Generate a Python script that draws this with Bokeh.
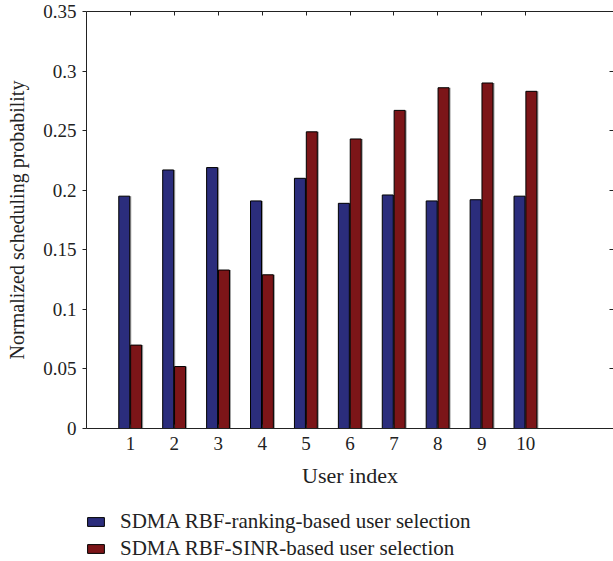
from bokeh.plotting import figure
from bokeh.layouts import column
from bokeh.models import (ColumnDataSource, FixedTicker, Range1d, LinearAxis,
                          Legend, LegendItem)
from bokeh.transform import dodge
from bokeh.embed import file_html
from bokeh.resources import INLINE

users = [1, 2, 3, 4, 5, 6, 7, 8, 9, 10]
ranking = [0.195, 0.217, 0.219, 0.191, 0.210, 0.189, 0.196, 0.191, 0.192, 0.195]
sinr = [0.070, 0.052, 0.133, 0.129, 0.249, 0.243, 0.267, 0.286, 0.290, 0.283]
y_ticks = [0, 0.05, 0.1, 0.15, 0.2, 0.25, 0.3, 0.35]
x_label = "User index"
y_label = "Normalized scheduling probability"
series_names = ["SDMA RBF-ranking-based user selection",
                "SDMA RBF-SINR-based user selection"]

BLUE = "#2B2D7C"
RED = "#7C1518"
FONT = "Liberation Serif"
TXT = "#222222"

src = ColumnDataSource(dict(x=users, r=ranking, s=sinr))

p = figure(width=613, height=505, output_backend="svg", toolbar_location=None,
           x_range=Range1d(0, 12), y_range=Range1d(0, 0.35),
           x_axis_location=None, y_axis_location=None,
           min_border_left=86, min_border_top=11, min_border_right=0,
           min_border_bottom=77)
p.outline_line_color = None
p.xgrid.visible = False
p.ygrid.visible = False

# light grey shading at the right of each bar
p.vbar(x=dodge("x", -0.105, range=p.x_range), top="r", width=0.25, source=src,
       fill_color="#a0a0a0", line_color=None)
p.vbar(x=dodge("x", 0.165, range=p.x_range), top="s", width=0.25, source=src,
       fill_color="#a0a0a0", line_color=None)

p.vbar(x=dodge("x", -0.14, range=p.x_range), top="r", width=0.25, source=src,
       fill_color=BLUE, line_color="black", line_width=1)
p.vbar(x=dodge("x", 0.13, range=p.x_range), top="s", width=0.25, source=src,
       fill_color=RED, line_color="black", line_width=1)

def style(ax):
    ax.major_label_text_font = FONT
    ax.major_label_text_font_size = "19px"
    ax.major_label_text_color = TXT
    ax.axis_label_text_font = FONT
    ax.axis_label_text_font_size = "20px"
    ax.axis_label_text_font_style = "normal"
    ax.axis_label_text_color = TXT
    ax.minor_tick_line_color = None
    ax.axis_line_color = TXT
    ax.major_tick_line_color = TXT

yax = LinearAxis(ticker=FixedTicker(ticks=y_ticks), axis_label=y_label)
style(yax)
yax.major_tick_out = 4
yax.major_tick_in = 0
yax.major_label_standoff = 6
yax.axis_label_standoff = 12
p.add_layout(yax, "left")

xax = LinearAxis(ticker=FixedTicker(ticks=users), axis_label=x_label)
style(xax)
xax.axis_label_text_font_size = "22px"
xax.major_tick_out = 0
xax.major_tick_in = 4
xax.major_label_standoff = 8
xax.axis_label_standoff = 10
p.add_layout(xax, "below")

tax = LinearAxis(ticker=FixedTicker(ticks=users),
                 major_label_overrides={t: "" for t in users})
style(tax)
tax.major_label_standoff = 0
tax.major_tick_out = 0
tax.major_tick_in = 4
p.add_layout(tax, "above")

rax = LinearAxis(ticker=FixedTicker(ticks=y_ticks),
                 major_label_overrides={t: "" for t in y_ticks})
style(rax)
rax.major_label_standoff = 0
rax.major_tick_out = 0
rax.major_tick_in = 4
rax.axis_line_color = None
p.add_layout(rax, "right")

# legend panel below the chart (its frame is aligned with the chart's frame)
lg = figure(width=613, height=56, output_backend="svg", toolbar_location=None,
            x_range=Range1d(0, 1), y_range=Range1d(0, 1),
            x_axis_location=None, y_axis_location=None,
            min_border_left=0, min_border_right=0, min_border_top=0,
            min_border_bottom=0)
lg.grid.visible = False
lg.outline_line_color = None
l1 = lg.vbar(x="x", top="r", width=0.1, source=src, visible=False,
             fill_color=BLUE, line_color="black", line_width=1)
l2 = lg.vbar(x="x", top="s", width=0.1, source=src, visible=False,
             fill_color=RED, line_color="black", line_width=1)

legend = Legend(items=[LegendItem(label=series_names[0], renderers=[l1]),
                       LegendItem(label=series_names[1], renderers=[l2])],
                location=(-1, 0), orientation="vertical")
legend.label_text_font = FONT
legend.label_text_font_size = "21px"
legend.label_text_color = TXT
legend.glyph_width = 21
legend.glyph_height = 11
legend.label_standoff = 14
legend.spacing = 2
legend.padding = 0
legend.margin = 0
legend.border_line_color = None
legend.background_fill_alpha = 0
legend.inactive_fill_alpha = 0
lg.add_layout(legend, "center")

layout = column(p, lg, spacing=0)
open("out.html", "w").write(file_html(layout, INLINE))
